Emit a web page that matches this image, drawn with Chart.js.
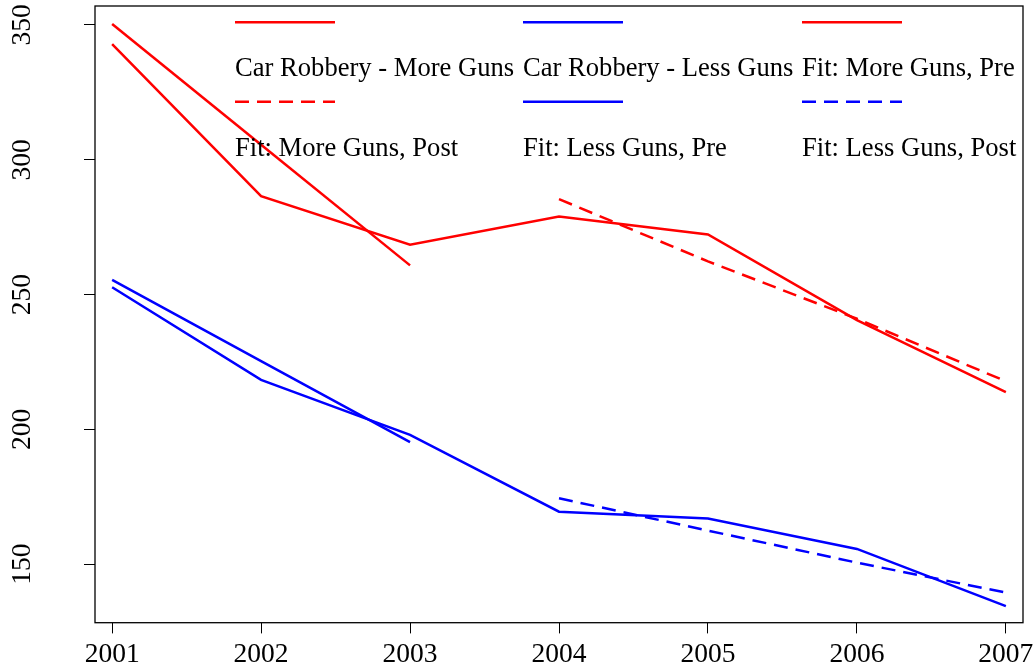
<!DOCTYPE html>
<html>
<head>
<meta charset="utf-8">
<script src="https://cdn.jsdelivr.net/npm/chart.js@4.4.1/dist/chart.umd.min.js"></script>
<style>
  html, body { margin: 0; padding: 0; background: #fff; overflow: hidden; }
  #wrap { width: 1035px; height: 670px; }
</style>
</head>
<body>
<div id="wrap"><canvas id="robbery_chart"></canvas></div>
<script>
// values
const years = [2001, 2002, 2003, 2004, 2005, 2006, 2007];
const preYears = [2001, 2002, 2003];
const postYears = [2004, 2005, 2006, 2007];
const carRobberyMoreGuns = [342.9, 286.5, 268.5, 278.9, 272.3, 240.5, 213.8];
const carRobberyLessGuns = [252.7, 218.3, 197.9, 169.4, 166.9, 155.6, 134.4];
const fitMoreGunsPre = [350.4, 305.6, 260.8];
const fitMoreGunsPost = [285.4, 262.3, 241.0, 217.8];
const fitLessGunsPre = [255.4, 225.3, 195.2];
const fitLessGunsPost = [174.4, 162.4, 150.5, 139.4];
const yTicks = [150, 200, 250, 300, 350];
const seriesLabels = [
    "Car Robbery - More Guns", "Car Robbery - Less Guns", "Fit: More Guns, Pre",
    "Fit: More Guns, Post", "Fit: Less Guns, Pre", "Fit: Less Guns, Post"
];

const RED = "#ff0000";
const BLUE = "#0000ff";
const FONT = "'Liberation Serif', 'DejaVu Serif', serif";

function toPoints(xs, ys){
    return xs.map((x, i) => ({x: x, y: ys[i]}));
}

function lineSet(label, xs, ys, color, dashed){
    return {
        label: label,
        data: toPoints(xs, ys),
        borderColor: color,
        backgroundColor: color,
        borderWidth: 2.5,
        borderDash: dashed ? [14, 8] : [],
        pointRadius: 0,
        tension: 0,
        fill: false
    };
}

// R style box round the plot plus the 3-column legend (line above text)
const boxAndLegend = {
    id: 'boxAndLegend',
    afterDraw(chart){
        const ctx = chart.ctx;
        const a = chart.chartArea;
        ctx.save();
        ctx.strokeStyle = '#000';
        ctx.lineWidth = 1.3;
        ctx.strokeRect(a.left, a.top, a.right - a.left, a.bottom - a.top);

        const colX = [235, 523, 802];
        const lineY = [22.3, 101.7];
        const textY = [76, 156];
        chart.data.datasets.forEach((ds, i) => {
            let c = i % 3, r = Math.floor(i / 3);
            ctx.strokeStyle = ds.borderColor;
            ctx.lineWidth = ds.borderWidth;
            ctx.setLineDash(ds.borderDash);
            ctx.beginPath();
            ctx.moveTo(colX[c], lineY[r]);
            ctx.lineTo(colX[c] + 100, lineY[r]);
            ctx.stroke();
            ctx.setLineDash([]);
            ctx.fillStyle = '#000';
            ctx.font = "26.6px " + FONT;
            ctx.textAlign = 'left';
            ctx.textBaseline = 'alphabetic';
            ctx.fillText(ds.label, colX[c], textY[r]);
        });
        ctx.restore();
    }
};

new Chart(document.getElementById("robbery_chart"), {
    type: 'line',
    data: {
        datasets: [
            lineSet(seriesLabels[0], years, carRobberyMoreGuns, RED, false),
            lineSet(seriesLabels[1], years, carRobberyLessGuns, BLUE, false),
            lineSet(seriesLabels[2], preYears, fitMoreGunsPre, RED, false),
            lineSet(seriesLabels[3], postYears, fitMoreGunsPost, RED, true),
            lineSet(seriesLabels[4], preYears, fitLessGunsPre, BLUE, false),
            lineSet(seriesLabels[5], postYears, fitLessGunsPost, BLUE, true)
        ]
    },
    options: {
        responsive: true,
        maintainAspectRatio: false,
        animation: false,
        layout: { padding: { top: 6, right: 12, left: 0, bottom: 0 } },
        scales: {
            x: {
                type: 'linear',
                min: 2000.885,
                max: 2007.115,
                afterBuildTicks: s => { s.ticks = years.map(v => ({value: v})); },
                afterFit: s => { s.height = 47.3; s.paddingLeft = 0; s.paddingRight = 0; },
                grid: { drawOnChartArea: false, drawTicks: true, tickLength: 10.7, tickColor: '#000', tickWidth: 1 },
                border: { display: false },
                ticks: {
                    font: { family: FONT, size: 27.5 },
                    color: '#000',
                    padding: 5,
                    maxRotation: 0,
                    autoSkip: false,
                    callback: v => String(v)
                }
            },
            y: {
                type: 'linear',
                min: 128.22,
                max: 357.05,
                afterBuildTicks: s => { s.ticks = yTicks.map(v => ({value: v})); },
                afterFit: s => { s.width = 95; s.paddingTop = 0; s.paddingBottom = 0; },
                grid: { drawOnChartArea: false, drawTicks: true, tickLength: 11, tickColor: '#000', tickWidth: 1 },
                border: { display: false },
                ticks: {
                    font: { family: FONT, size: 27.5 },
                    color: '#000',
                    padding: 41,
                    minRotation: 90,
                    maxRotation: 90,
                    crossAlign: 'center',
                    autoSkip: false,
                    callback: v => String(v)
                }
            }
        },
        plugins: {
            legend: { display: false },
            tooltip: { enabled: false }
        }
    },
    plugins: [boxAndLegend]
});
</script>
</body>
</html>
